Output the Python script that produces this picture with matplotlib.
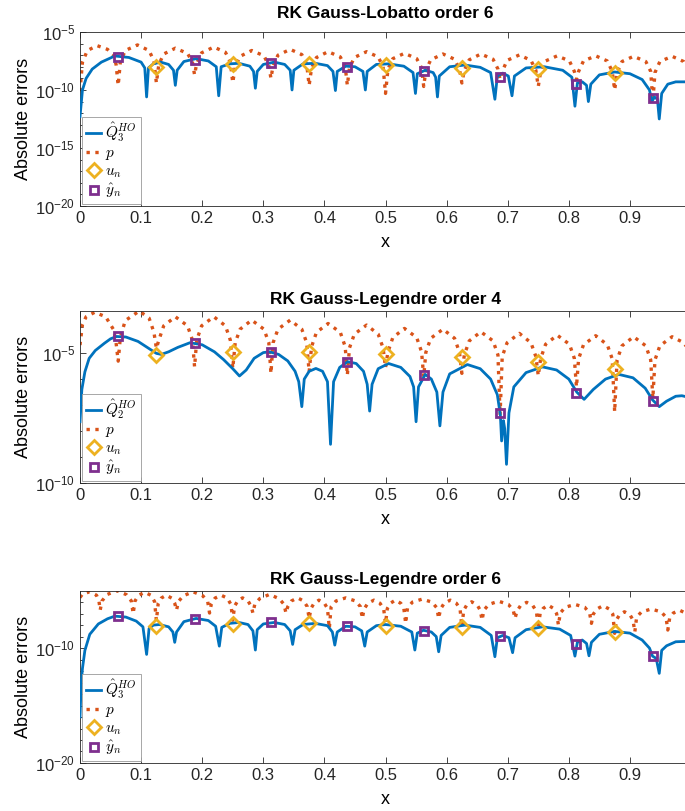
import numpy as np
import matplotlib.pyplot as plt
from matplotlib.ticker import FixedLocator, NullFormatter, LogFormatterMathtext
from matplotlib.font_manager import FontProperties

plt.rcParams['font.family'] = ['Liberation Sans', 'DejaVu Sans']

# ---------------------------------------------------------------
# Values: x and log10(error)
# ---------------------------------------------------------------
x_u = [0.125, 0.25, 0.375, 0.5, 0.625, 0.75, 0.875]
x_y = [0.0625, 0.1875, 0.3125, 0.4375, 0.5625, 0.6875, 0.8125, 0.9375]
x_ticks = [0, 0.1, 0.2, 0.3, 0.4, 0.5, 0.6, 0.7, 0.8, 0.9]
x_ticklabels = ['0', '0.1', '0.2', '0.3', '0.4', '0.5', '0.6', '0.7', '0.8', '0.9']

# --- RK Gauss-Lobatto order 6 ---
lob6_q = [(0.0, -12.3), (0.004, -10.0), (0.01, -9.0), (0.02, -8.2), (0.035, -7.6), (0.057, -7.07),
          (0.08, -7.2), (0.1, -7.6), (0.106, -8.1), (0.109, -10.6), (0.112, -8.1), (0.12, -7.75),
          (0.132, -7.6), (0.145, -7.8), (0.153, -8.3), (0.156, -9.6), (0.159, -8.3), (0.17, -7.55),
          (0.19, -7.3), (0.21, -7.5), (0.223, -8.0), (0.227, -10.5), (0.231, -8.0), (0.245, -7.75),
          (0.26, -7.7), (0.278, -7.95), (0.284, -8.4), (0.287, -9.85), (0.29, -8.4), (0.3, -7.8),
          (0.318, -7.6), (0.335, -7.8), (0.344, -8.3), (0.347, -10.0), (0.35, -8.3), (0.365, -7.75),
          (0.385, -7.7), (0.405, -7.9), (0.414, -8.4), (0.418, -10.05), (0.421, -8.4), (0.435, -7.95),
          (0.45, -8.0), (0.463, -8.4), (0.467, -10.0), (0.47, -8.4), (0.485, -7.8), (0.505, -7.75),
          (0.53, -7.95), (0.545, -8.5), (0.549, -10.3), (0.552, -8.6), (0.565, -8.3), (0.578, -8.5),
          (0.582, -8.9), (0.585, -10.6), (0.588, -8.8), (0.605, -8.0), (0.63, -7.85), (0.655, -8.05),
          (0.672, -8.5), (0.679, -10.8), (0.683, -8.8), (0.692, -8.55), (0.701, -8.8), (0.707, -10.5),
          (0.711, -8.8), (0.73, -8.1), (0.76, -8.0), (0.79, -8.3), (0.805, -8.9), (0.81, -11.4),
          (0.814, -9.4), (0.822, -9.3), (0.829, -9.6), (0.832, -11.0), (0.836, -9.5), (0.85, -8.7),
          (0.875, -8.45), (0.9, -8.6), (0.92, -9.1), (0.932, -10.0), (0.936, -11.0), (0.94, -10.6),
          (0.945, -10.8), (0.948, -12.5), (0.952, -10.3), (0.962, -9.5), (0.975, -9.3), (1.0, -9.3)]
lob6_p = [(0.0, -10.1), (0.004, -7.6), (0.012, -6.6), (0.028, -6.18), (0.045, -6.5), (0.055, -7.0),
          (0.059, -7.8), (0.0625, -9.6),
          (0.066, -7.6), (0.074, -6.6), (0.094, -6.12), (0.113, -6.6), (0.121, -7.5), (0.125, -9.4),
          (0.129, -7.8), (0.137, -6.9), (0.156, -6.4), (0.176, -6.85), (0.184, -7.6), (0.1875, -8.7),
          (0.191, -7.7), (0.199, -6.8), (0.219, -6.3), (0.238, -6.75), (0.246, -7.6), (0.25, -9.37),
          (0.254, -8.0), (0.262, -7.1), (0.281, -6.6), (0.301, -7.05), (0.309, -7.9), (0.3125, -9.0),
          (0.316, -7.9), (0.324, -7.0), (0.344, -6.5), (0.363, -6.95), (0.371, -7.8), (0.375, -9.6),
          (0.379, -8.1), (0.387, -7.2), (0.406, -6.7), (0.426, -7.15), (0.434, -8.0), (0.4375, -9.6),
          (0.441, -8.1), (0.449, -7.2), (0.469, -6.7), (0.488, -7.15), (0.496, -8.0), (0.5, -10.3),
          (0.504, -8.2), (0.512, -7.3), (0.531, -6.84), (0.551, -7.3), (0.559, -8.1), (0.5625, -9.7),
          (0.566, -8.3), (0.574, -7.4), (0.594, -6.9), (0.613, -7.35), (0.621, -8.2), (0.625, -9.4),
          (0.629, -8.3), (0.637, -7.4), (0.656, -6.9), (0.676, -7.35), (0.684, -8.2), (0.6875, -9.1),
          (0.691, -8.4), (0.699, -7.45), (0.719, -6.98), (0.738, -7.45), (0.746, -8.3), (0.75, -9.7),
          (0.754, -8.4), (0.762, -7.5), (0.781, -7.06), (0.801, -7.5), (0.809, -8.4), (0.8125, -9.1),
          (0.816, -8.4), (0.824, -7.5), (0.844, -7.06), (0.863, -7.5), (0.871, -8.4), (0.875, -10.0),
          (0.879, -8.5), (0.887, -7.55), (0.906, -7.1), (0.926, -7.55), (0.934, -8.4), (0.9375, -11.0),
          (0.941, -8.5), (0.949, -7.55), (0.969, -7.1), (0.988, -7.55), (0.996, -8.4), (1.0, -9.5)]
lob6_u = [-7.99, -7.79, -7.76, -7.84, -8.07, -8.2, -8.5]
lob6_y = [-7.13, -7.41, -7.7, -8.05, -8.36, -8.85, -9.48, -10.66]

# --- RK Gauss-Legendre order 4 ---
leg4_q = [(0.0, -7.64), (0.003, -6.4), (0.008, -5.72), (0.015, -5.2), (0.025, -4.9), (0.04, -4.62),
          (0.05, -4.45), (0.06, -4.36), (0.075, -4.38), (0.095, -4.55), (0.11, -4.78), (0.125, -5.01),
          (0.133, -5.05), (0.145, -4.95), (0.16, -4.78), (0.18, -4.6), (0.2, -4.68), (0.22, -4.95),
          (0.235, -5.25), (0.25, -5.6), (0.261, -5.88), (0.272, -5.65), (0.285, -5.2), (0.3, -4.98),
          (0.31, -4.95), (0.325, -5.05), (0.34, -5.3), (0.352, -5.7), (0.358, -6.1), (0.363, -7.06),
          (0.367, -6.0), (0.375, -5.7), (0.386, -5.59), (0.397, -5.7), (0.405, -6.1), (0.41, -8.51),
          (0.415, -6.1), (0.425, -5.55), (0.438, -5.33), (0.452, -5.4), (0.464, -5.7), (0.47, -6.2),
          (0.474, -7.23), (0.478, -6.2), (0.488, -5.6), (0.505, -5.4), (0.525, -5.55), (0.54, -5.9),
          (0.546, -6.3), (0.55, -7.64), (0.554, -6.3), (0.565, -5.82), (0.575, -6.0), (0.584, -6.5),
          (0.589, -7.8), (0.594, -6.5), (0.605, -5.8), (0.634, -5.44), (0.655, -5.6), (0.672, -6.0),
          (0.683, -6.6), (0.688, -7.4), (0.69, -8.38), (0.693, -7.6), (0.695, -7.9), (0.698, -9.28),
          (0.702, -7.3), (0.71, -6.3), (0.73, -5.75), (0.757, -5.53), (0.78, -5.65), (0.8, -6.0),
          (0.813, -6.5), (0.825, -6.78), (0.84, -6.4), (0.86, -6.0), (0.882, -5.82), (0.905, -5.95),
          (0.925, -6.35), (0.937, -6.8), (0.948, -7.06), (0.96, -6.85), (0.975, -6.66), (0.985, -6.64),
          (1.0, -6.72)]
leg4_p = [(0.0, -4.69), (0.004, -3.9), (0.01, -3.6), (0.024, -3.43), (0.042, -3.6), (0.055, -4.1),
          (0.059, -4.6), (0.0625, -5.31),
          (0.066, -4.4), (0.074, -3.75), (0.097, -3.38), (0.113, -3.65), (0.121, -4.2), (0.125, -4.82),
          (0.129, -4.5), (0.137, -3.95), (0.156, -3.6), (0.176, -3.95), (0.184, -4.5), (0.1875, -5.53),
          (0.191, -4.5), (0.199, -3.95), (0.219, -3.6), (0.238, -3.95), (0.246, -4.5), (0.25, -5.59),
          (0.254, -4.6), (0.262, -4.08), (0.281, -3.73), (0.301, -4.08), (0.309, -4.6), (0.3125, -5.78),
          (0.316, -4.6), (0.324, -4.08), (0.344, -3.73), (0.363, -4.08), (0.371, -4.6), (0.375, -5.72),
          (0.379, -4.75), (0.387, -4.2), (0.406, -3.86), (0.426, -4.2), (0.434, -4.75), (0.4375, -5.85),
          (0.441, -4.8), (0.449, -4.27), (0.469, -3.92), (0.488, -4.27), (0.496, -4.8), (0.5, -5.56),
          (0.504, -4.95), (0.512, -4.4), (0.531, -4.05), (0.551, -4.4), (0.559, -4.95), (0.5625, -5.91),
          (0.566, -4.97), (0.574, -4.43), (0.594, -4.08), (0.613, -4.43), (0.621, -4.97), (0.625, -5.78),
          (0.629, -5.07), (0.637, -4.53), (0.656, -4.18), (0.676, -4.53), (0.684, -5.07), (0.6875, -7.38),
          (0.691, -5.13), (0.699, -4.6), (0.719, -4.24), (0.738, -4.6), (0.746, -5.13), (0.75, -5.87),
          (0.754, -5.2), (0.762, -4.66), (0.781, -4.31), (0.801, -4.66), (0.809, -5.2), (0.8125, -6.3),
          (0.816, -5.22), (0.824, -4.68), (0.844, -4.33), (0.863, -4.68), (0.871, -5.22), (0.875, -7.26),
          (0.879, -5.26), (0.887, -4.72), (0.906, -4.37), (0.926, -4.72), (0.934, -5.26), (0.9375, -6.74),
          (0.941, -5.26), (0.949, -4.72), (0.969, -4.37), (0.988, -4.6), (1.0, -5.0)]
leg4_u = [-5.08, -4.95, -4.95, -5.05, -5.14, -5.33, -5.63]
leg4_y = [-4.34, -4.63, -4.95, -5.33, -5.85, -7.32, -6.53, -6.83]

# --- RK Gauss-Legendre order 6 ---
leg6_q = [(0.0, -16.0), (0.002, -13.0), (0.004, -11.77), (0.008, -10.2), (0.016, -8.8), (0.03, -7.9),
          (0.045, -7.45), (0.057, -7.22), (0.075, -7.3), (0.092, -7.65), (0.103, -8.15), (0.109, -10.55),
          (0.113, -8.3), (0.12, -8.0), (0.13, -7.95), (0.145, -8.15), (0.152, -8.6), (0.155, -9.5),
          (0.158, -8.6), (0.17, -7.7), (0.19, -7.42), (0.21, -7.6), (0.222, -8.1), (0.228, -9.83),
          (0.232, -8.2), (0.245, -7.85), (0.26, -7.77), (0.275, -7.95), (0.283, -8.5), (0.287, -10.17),
          (0.29, -8.4), (0.3, -7.9), (0.318, -7.77), (0.335, -7.95), (0.344, -8.5), (0.348, -9.68),
          (0.352, -8.4), (0.365, -7.95), (0.385, -7.85), (0.405, -8.05), (0.413, -8.6), (0.417, -9.74),
          (0.421, -8.6), (0.435, -8.1), (0.45, -8.15), (0.461, -8.5), (0.466, -9.83), (0.47, -8.6),
          (0.485, -8.05), (0.5, -7.95), (0.525, -8.1), (0.543, -8.6), (0.548, -10.17), (0.552, -8.7),
          (0.562, -8.45), (0.575, -8.6), (0.583, -9.0), (0.587, -10.32), (0.591, -8.9), (0.605, -8.2),
          (0.63, -8.0), (0.655, -8.2), (0.673, -8.9), (0.679, -10.75), (0.683, -9.1), (0.692, -8.9),
          (0.702, -9.1), (0.708, -10.4), (0.712, -9.1), (0.73, -8.4), (0.757, -8.15), (0.785, -8.35),
          (0.803, -8.9), (0.81, -10.7), (0.814, -9.5), (0.822, -9.3), (0.829, -9.6), (0.833, -10.67),
          (0.837, -9.5), (0.85, -8.8), (0.875, -8.55), (0.9, -8.7), (0.92, -9.3), (0.932, -10.0),
          (0.937, -10.7), (0.943, -10.9), (0.948, -12.2), (0.952, -10.2), (0.96, -9.8), (0.975, -9.45),
          (1.0, -9.4)]
leg6_p = [(0.0, -5.6), (0.004, -5.3), (0.016, -5.1), (0.027, -5.4), (0.031, -5.9), (0.033, -6.7),
          (0.036, -5.9), (0.044, -5.35), (0.06, -5.0), (0.076, -5.35), (0.084, -5.9), (0.087, -7.0),
          (0.09, -5.9), (0.096, -5.4), (0.106, -5.15), (0.116, -5.4), (0.122, -5.95), (0.125, -7.6),
          (0.128, -6.1), (0.133, -5.65), (0.141, -5.4), (0.15, -5.65), (0.155, -6.1), (0.158, -6.7),
          (0.161, -5.95), (0.169, -5.45), (0.185, -5.1), (0.201, -5.45), (0.209, -5.95), (0.212, -6.95),
          (0.215, -6.15), (0.221, -5.65), (0.231, -5.4), (0.241, -5.65), (0.247, -6.2), (0.25, -7.57),
          (0.253, -6.35), (0.258, -5.9), (0.266, -5.63), (0.275, -5.9), (0.28, -6.35), (0.283, -6.95),
          (0.286, -6.2), (0.294, -5.7), (0.31, -5.33), (0.326, -5.7), (0.334, -6.2), (0.337, -6.95),
          (0.34, -6.4), (0.346, -5.9), (0.356, -5.63), (0.366, -5.9), (0.372, -6.4), (0.375, -7.42),
          (0.378, -6.55), (0.383, -6.1), (0.391, -5.83), (0.4, -6.1), (0.405, -6.55), (0.408, -8.29),
          (0.411, -6.4), (0.419, -5.9), (0.435, -5.63), (0.451, -5.9), (0.459, -6.4), (0.462, -7.42),
          (0.465, -6.6), (0.471, -6.1), (0.481, -5.83), (0.491, -6.1), (0.497, -6.6), (0.5, -7.85),
          (0.503, -6.55), (0.508, -6.1), (0.516, -5.83), (0.525, -6.1), (0.53, -6.55), (0.533, -7.85),
          (0.536, -6.5), (0.544, -6.0), (0.56, -5.74), (0.576, -6.0), (0.584, -6.5), (0.587, -7.42),
          (0.59, -6.6), (0.596, -6.1), (0.606, -5.83), (0.616, -6.1), (0.622, -6.6), (0.625, -8.15),
          (0.628, -6.7), (0.633, -6.25), (0.641, -5.97), (0.65, -6.25), (0.655, -6.7), (0.658, -7.57),
          (0.661, -6.7), (0.669, -6.2), (0.685, -5.92), (0.701, -6.2), (0.709, -6.7), (0.712, -7.42),
          (0.715, -6.8), (0.721, -6.3), (0.731, -6.02), (0.741, -6.3), (0.747, -6.8), (0.75, -8.29),
          (0.753, -7.0), (0.758, -6.55), (0.766, -6.26), (0.775, -6.55), (0.78, -7.0), (0.783, -8.0),
          (0.786, -6.95), (0.794, -6.45), (0.81, -6.2), (0.826, -6.45), (0.834, -6.95), (0.837, -7.85),
          (0.84, -7.05), (0.846, -6.6), (0.856, -6.31), (0.866, -6.6), (0.872, -7.05), (0.875, -8.72),
          (0.878, -7.55), (0.883, -7.1), (0.891, -6.84), (0.9, -7.1), (0.905, -7.55), (0.908, -8.6),
          (0.911, -7.3), (0.919, -6.85), (0.935, -6.6), (0.951, -6.85), (0.959, -7.3), (0.962, -8.43),
          (0.965, -7.4), (0.971, -6.95), (0.981, -6.7), (0.991, -6.95), (1.0, -7.4)]
leg6_u = [-8.06, -7.89, -7.86, -8.06, -8.15, -8.29, -8.63]
leg6_y = [-7.22, -7.48, -7.77, -8.09, -8.5, -8.93, -9.65, -10.7]

panels = [
    ("RK Gauss-Lobatto order 6", r"$\hat{Q}_3^{HO}$", lob6_q, lob6_p, lob6_u, lob6_y,
     (-20, -5), [-20, -15, -10, -5]),
    ("RK Gauss-Legendre order 4", r"$\hat{Q}_2^{HO}$", leg4_q, leg4_p, leg4_u, leg4_y,
     (-10, -3.38), [-10, -5]),
    ("RK Gauss-Legendre order 6", r"$\hat{Q}_3^{HO}$", leg6_q, leg6_p, leg6_u, leg6_y,
     (-20, -5.03), [-20, -10]),
]

# axes boxes in figure fractions (right edge runs past the crop like the original)
boxes = [[0.1168, 0.746, 0.892, 0.2146],
         [0.1168, 0.4044, 0.892, 0.2121],
         [0.1168, 0.0592, 0.892, 0.2121]]
title_pads = [10, 5, 5]

c_blue = '#0072BD'
c_red = '#D95319'
c_yel = '#EDB120'
c_pur = '#7E2F8E'

fig = plt.figure(figsize=(6.85, 8.11), dpi=100)

for (title, qlab, q, p, u, yh, ylim, major), box, tpad in zip(panels, boxes, title_pads):
    ax = fig.add_axes(box)
    qx, qy = zip(*q)
    px, py = zip(*p)
    ax.plot(qx, 10.0 ** np.array(qy), '-', color=c_blue, lw=2.0, label=qlab, zorder=3)
    ax.plot(px, 10.0 ** np.array(py), ':', color=c_red, lw=2.4, label=r"$p$", zorder=2)
    ax.plot(x_u, 10.0 ** np.array(u), 'D', ms=7, mfc='none', mec=c_yel, mew=2.0,
            label=r"$u_n$", zorder=4)
    ax.plot(x_y, 10.0 ** np.array(yh), 's', ms=6, mfc='none', mec=c_pur, mew=2.0,
            label=r"$\hat{y}_n$", zorder=5)

    ax.set_yscale('log')
    ax.set_xlim(0, 1)
    ax.set_ylim(10.0 ** ylim[0], 10.0 ** ylim[1])
    ax.yaxis.set_major_locator(FixedLocator([10.0 ** k for k in major]))
    ax.yaxis.set_major_formatter(LogFormatterMathtext())
    ax.yaxis.set_minor_locator(FixedLocator([10.0 ** k for k in range(ylim[0], int(np.floor(ylim[1])) + 1)]))
    ax.yaxis.set_minor_formatter(NullFormatter())
    ax.set_xticks(x_ticks)
    ax.set_xticklabels(x_ticklabels)

    ax.tick_params(axis='both', which='both', direction='in', top=True, right=True,
                   colors='#262626', labelsize=12, width=0.6)
    ax.tick_params(which='major', length=4.5)
    ax.tick_params(which='minor', length=2.5)
    for s in ax.spines.values():
        s.set_color('#262626')
        s.set_linewidth(0.6)

    ax.set_title(title, fontsize=12.5, fontweight='bold', pad=tpad)
    ax.set_xlabel('x', fontsize=13, labelpad=6)
    ax.set_ylabel('Absolute errors', fontsize=13, labelpad=2)

    leg = ax.legend(loc='lower left', prop=FontProperties(size=11, math_fontfamily='cm'),
                    handlelength=1.0, handletextpad=0.25, borderpad=0.25, labelspacing=0.12,
                    borderaxespad=0.15, fancybox=False, framealpha=1, edgecolor='#999999')
    leg.get_frame().set_linewidth(0.6)

fig.savefig('out.png', dpi=100)
